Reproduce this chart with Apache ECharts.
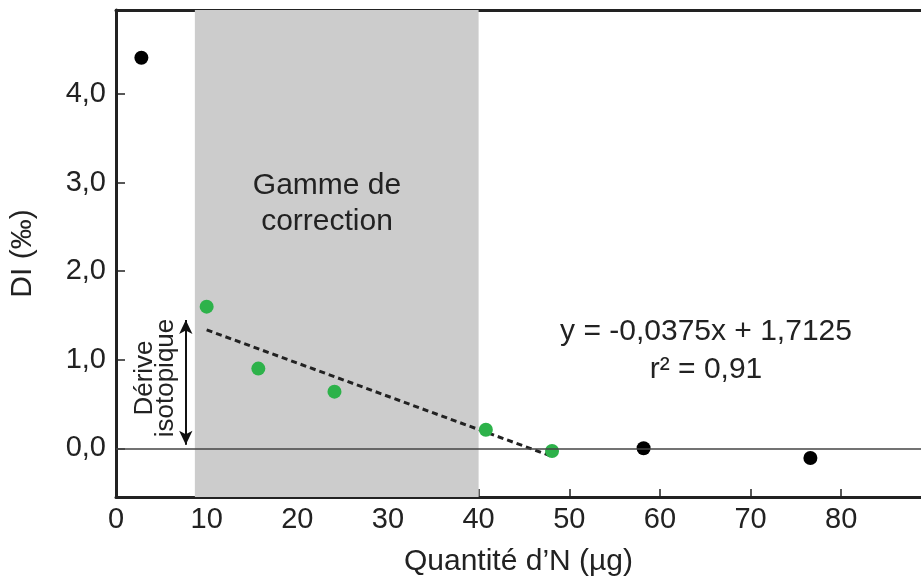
<!DOCTYPE html>
<html>
<head>
<meta charset="utf-8">
<script src="https://cdn.jsdelivr.net/npm/echarts@6/dist/echarts.min.js"></script>
<style>
  html, body { margin: 0; padding: 0; background: #fff; }
  #chart { width: 921px; height: 582px; }
</style>
</head>
<body>
<div id="chart"></div>
<script>
// points hors gamme (noirs)
const blackX = [2.8, 58.2, 76.6]
const blackY = [4.41, 0.0, -0.11]
// points de la gamme de correction (verts)
const greenX = [10.0, 15.7, 24.1, 40.8, 48.1]
const greenY = [1.60, 0.90, 0.64, 0.21, -0.03]
// droite de régression y = -0,0375x + 1,7125
const fitX = [10, 48]
const fitY = [1.3375, -0.0875]
// gamme de correction
const bandRange = [8.7, 40]
// flèche dérive isotopique
const arrowX = 7.7
const arrowY = [1.45, 0.04]
const xTicks = [0, 10, 20, 30, 40, 50, 60, 70, 80]
const yTicks = [0, 1, 2, 3, 4]

const font = "'Liberation Sans', Arial, Helvetica, sans-serif"
const ink = '#222'

const chart = echarts.init(document.getElementById('chart'))

const option = {
  animation: false,
  grid: { left: 116, right: 0, top: 10, bottom: 84 },
  xAxis: [
    {
      type: 'value',
      min: 0,
      max: 88.8,
      name: 'Quantité d’N (µg)',
      nameLocation: 'middle',
      nameGap: 50,
      nameTextStyle: { fontFamily: font, fontSize: 30, color: ink },
      axisLine: { onZero: false, lineStyle: { color: ink, width: 3 } },
      axisTick: { inside: true, length: 8, lineStyle: { color: ink, width: 1.5 }, customValues: xTicks },
      axisLabel: { fontFamily: font, fontSize: 29, color: ink, margin: 8, customValues: xTicks },
      splitLine: { show: false }
    },
    {
      type: 'value',
      position: 'top',
      min: 0,
      max: 88.8,
      axisLine: { onZero: false, lineStyle: { color: ink, width: 3 } },
      axisTick: { show: false },
      axisLabel: { show: false },
      splitLine: { show: false }
    }
  ],
  yAxis: {
    type: 'value',
    min: -0.55,
    max: 4.95,
    name: 'DI (‰)',
    nameLocation: 'middle',
    nameGap: 78,
    nameTextStyle: { fontFamily: font, fontSize: 30, color: ink },
    axisLine: { onZero: false, lineStyle: { color: ink, width: 3 } },
    axisTick: { inside: true, length: 9, lineStyle: { color: ink, width: 1.5 }, customValues: yTicks },
    axisLabel: {
      fontFamily: font, fontSize: 29, color: ink, margin: 10, customValues: yTicks,
      formatter: v => v.toFixed(1).replace('.', ',')
    },
    splitLine: { show: false }
  },
  series: [
    {
      type: 'line',
      z: 1,
      data: [],
      markArea: {
        silent: true,
        itemStyle: { color: '#cccccc' },
        data: [[{ xAxis: bandRange[0] }, { xAxis: bandRange[1] }]]
      },
      markLine: {
        silent: true,
        symbol: 'none',
        label: { show: false },
        lineStyle: { color: '#444', width: 1.5, type: 'solid' },
        data: [{ yAxis: 0 }]
      }
    },
    {
      type: 'line',
      z: 3,
      data: fitX.map((x, i) => [x, fitY[i]]),
      symbol: 'none',
      lineStyle: { color: ink, width: 3, type: [6, 4] }
    },
    {
      type: 'line',
      z: 3,
      data: [],
      markLine: {
        silent: true,
        symbol: ['arrow', 'arrow'],
        symbolSize: [10, 14],
        label: { show: false },
        lineStyle: { color: '#111', width: 2, type: 'solid' },
        data: [[{ coord: [arrowX, arrowY[0]] }, { coord: [arrowX, arrowY[1]] }]]
      }
    },
    {
      type: 'scatter',
      z: 4,
      symbolSize: 14,
      itemStyle: { color: '#2db24a', opacity: 1 },
      data: greenX.map((x, i) => [x, greenY[i]])
    },
    {
      type: 'scatter',
      z: 4,
      symbolSize: 14,
      itemStyle: { color: '#000', opacity: 1 },
      data: blackX.map((x, i) => [x, blackY[i]])
    }
  ],
  graphic: [
    {
      type: 'text', x: 327, y: 204, z: 10,
      style: {
        text: 'Gamme de\ncorrection', fill: ink, font: '30px ' + font,
        align: 'center', verticalAlign: 'middle', lineHeight: 36
      }
    },
    {
      type: 'text', x: 706, y: 351, z: 10,
      style: {
        text: 'y = -0,0375x + 1,7125\nr² = 0,91', fill: ink, font: '30px ' + font,
        align: 'center', verticalAlign: 'middle', lineHeight: 38
      }
    },
    {
      type: 'text', x: 155, y: 378, z: 10, rotation: Math.PI / 2,
      style: {
        text: 'Dérive\nisotopique', fill: ink, font: '26px ' + font,
        align: 'center', verticalAlign: 'middle', lineHeight: 21
      }
    }
  ]
}

chart.setOption(option)
</script>
</body>
</html>
